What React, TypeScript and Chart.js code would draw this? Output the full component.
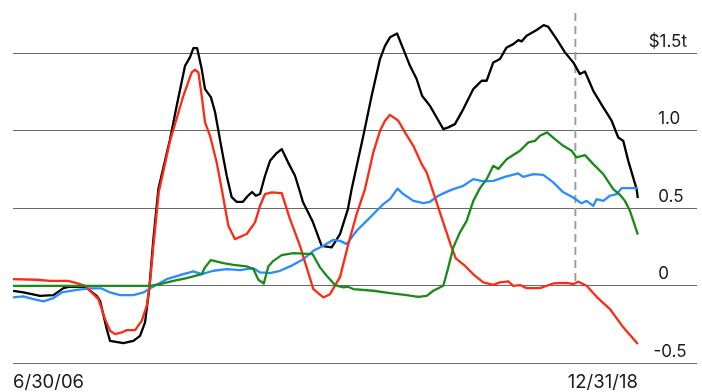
import { useEffect, useRef } from "react";
import { Chart, registerables } from "chart.js";

Chart.register(...registerables);

const FONT = "Inter, 'Helvetica Neue', 'Liberation Sans', Arial, sans-serif";

// x values: months after 6/30/06 ; y values: $ trillions
const xTickMonths = [0, 150];
const xTickLabels = ["6/30/06", "12/31/18"];
const yTickValues = [-0.5, 0, 0.5, 1, 1.5];
const yTickLabels = [" -0.5", "  0", "  0.5", "  1.0", "$1.5t"];
const markerMonth = 135;

const blackMonths = [0,2.5,6.5,9.7,12.1,13.7,17.3,20.1,20.9,22.5,23.3,26.5,28.9,30.5,31.7,32.7,33.7,34.9,37.7,39.3,41.3,42.5,43.3,44.2,45.3,46.1,47.5,48.5,50.1,51.3,52.5,53.7,55.2,56.4,57.4,58.3,59.3,60.5,61.7,63.3,64.5,66,67.7,68.9,69.6,72,74.1,76.5,78.5,80.4,81.3,84.1,86.1,88.1,89.3,90.5,92.2,93.7,95.3,96.9,98.2,100.1,101.7,103.3,104.5,106.1,108.1,110.5,112.5,113.7,115.3,116.9,118.5,120.1,121.3,122.1,123.3,125.7,127.4,128.5,130.5,132.5,134.5,136.1,137.3,139.3,141.7,143.7,145.3,146.5,147.7,149.7,150];
const blackValues = [-0.032,-0.043,-0.065,-0.06,-0.015,-0.006,-0.006,-0.065,-0.097,-0.279,-0.355,-0.37,-0.355,-0.323,-0.236,-0.021,0.301,0.624,0.946,1.161,1.419,1.475,1.534,1.534,1.398,1.269,1.217,1.121,0.882,0.71,0.572,0.542,0.542,0.581,0.605,0.581,0.592,0.71,0.806,0.856,0.882,0.798,0.71,0.605,0.54,0.411,0.258,0.248,0.334,0.495,0.624,0.968,1.226,1.463,1.548,1.603,1.628,1.527,1.419,1.334,1.226,1.161,1.086,1.011,1.022,1.043,1.14,1.269,1.323,1.323,1.441,1.463,1.538,1.559,1.585,1.577,1.613,1.65,1.682,1.671,1.592,1.506,1.441,1.366,1.383,1.258,1.151,1.065,0.957,0.935,0.806,0.624,0.566];

const redMonths = [0,5.7,8.9,13.2,15.3,17.3,19.3,20.5,22.1,23.3,24.5,26.1,27.3,29.3,30.9,32.1,32.9,33.7,35,37.7,40.9,42.9,43.7,44.5,45.3,46.1,47.3,48.9,50.1,51.7,53.3,56.1,58.1,59.3,60.5,62.1,64.5,66.5,68.9,72.1,74.5,76.1,78.5,80.5,82.5,84.5,86.5,88.1,89.3,90.5,92.5,94.1,96.1,98.1,99.3,100.9,102.7,105.1,106.3,108.3,110.7,112.9,115.3,116.9,118.9,120.1,121.7,123.3,126.5,129.7,132.9,134.5,135.7,137.7,140.1,143.3,146.5,150];
const redValues = [0.043,0.039,0.032,0.032,0.017,0,-0.054,-0.086,-0.215,-0.29,-0.312,-0.301,-0.286,-0.286,-0.226,-0.129,0.024,0.258,0.605,0.934,1.226,1.377,1.394,1.377,1.226,1.054,0.968,0.796,0.624,0.387,0.301,0.334,0.409,0.516,0.592,0.603,0.598,0.43,0.258,-0.021,-0.075,-0.054,0.056,0.269,0.463,0.624,0.861,1.0,1.065,1.103,1.065,0.99,0.903,0.785,0.732,0.603,0.456,0.263,0.177,0.134,0.069,0.022,0.006,0.022,0.028,0,0.005,-0.015,-0.015,0.015,0.019,0.011,0.026,0,-0.071,-0.15,-0.268,-0.376];

const blueMonths = [0,2.5,4.9,7.3,9.7,11.7,15.3,18.5,21.3,23.3,25.7,28.9,31.3,33.7,36.9,40.9,43.3,45.3,48.1,51.3,54.5,57.7,59.3,61.7,64.1,66.5,69.7,72.1,74.5,76.9,78.5,80.1,82.5,84.9,87.3,88.9,90.5,92.3,93.7,96.1,98.5,100.1,102.1,104.1,105.7,108.1,110.5,112.9,115.3,118.1,121.3,122.5,124.9,127.3,129.7,132.1,134.5,136.5,137.7,139.3,140.1,141.7,143.3,144.9,146.1,150];
const blueValues = [-0.075,-0.068,-0.086,-0.101,-0.079,-0.043,-0.026,-0.017,-0.017,-0.043,-0.06,-0.06,-0.043,-0.005,0.043,0.075,0.093,0.075,0.097,0.108,0.101,0.114,0.086,0.082,0.097,0.125,0.172,0.226,0.258,0.297,0.29,0.269,0.355,0.419,0.484,0.527,0.559,0.627,0.592,0.548,0.534,0.542,0.581,0.606,0.624,0.645,0.688,0.674,0.677,0.703,0.725,0.703,0.721,0.716,0.667,0.603,0.57,0.532,0.548,0.516,0.559,0.548,0.581,0.592,0.63,0.63];

const greenMonths = [0,32.9,35.3,38.5,41.7,45.3,46.1,47.5,50.5,52.9,56.1,57.7,58.9,60.2,61.3,62.5,64.5,67.3,71.9,73.7,75.3,77.3,79.3,80.4,81.7,86.5,90.5,94.5,97.3,99.3,100.9,103.3,104.5,105.7,107.3,108.9,110.5,112.1,113.7,115.3,116.5,118.5,121.7,123.7,125.3,126.5,128.2,130.1,132.1,134.1,135.3,137.3,139.3,141.7,144.1,145.7,146.9,148.1,150];
const greenValues = [0,0,0.011,0.032,0.05,0.075,0.119,0.166,0.146,0.135,0.125,0.108,0.039,0.015,0.125,0.161,0.198,0.211,0.205,0.119,0.065,0.005,-0.01,-0.006,-0.021,-0.032,-0.047,-0.06,-0.071,-0.065,-0.032,0,0.119,0.248,0.345,0.419,0.548,0.63,0.688,0.774,0.753,0.817,0.871,0.925,0.935,0.968,0.99,0.946,0.903,0.871,0.828,0.843,0.785,0.721,0.624,0.587,0.548,0.484,0.33];

const Y_MIN = -0.5;
const Y_MAX = 1.76;
const X_MAX = 164.2;

function pts(xs: number[], ys: number[]) {
  return xs.map((x, i) => ({ x, y: ys[i] }));
}

export default function App() {
  const ref = useRef<HTMLCanvasElement | null>(null);

  useEffect(() => {
    if (!ref.current) return;
    const chart = new Chart(ref.current, {
      type: "line",
      data: {
        datasets: [
          {
            label: "marker",
            data: [{ x: markerMonth, y: Y_MAX }, { x: markerMonth, y: 0 }],
            borderColor: "#9e9e9e",
            borderDash: [8, 5],
            borderWidth: 2,
            order: 5,
          },
          { label: "green", data: pts(greenMonths, greenValues), borderColor: "#1a8a1a", order: 1 },
          { label: "red", data: pts(redMonths, redValues), borderColor: "#ff2a14", order: 2 },
          { label: "blue", data: pts(blueMonths, blueValues), borderColor: "#2b8cff", order: 3 },
          { label: "black", data: pts(blackMonths, blackValues), borderColor: "#000000", order: 4 },
        ],
      },
      options: {
        animation: false,
        responsive: false,
        devicePixelRatio: 1,
        layout: { padding: { left: 13, right: 5, top: 13, bottom: 0 } },
        elements: {
          point: { radius: 0 },
          line: { tension: 0, borderWidth: 2.3, borderJoinStyle: "round", borderCapStyle: "butt" },
        },
        plugins: { legend: { display: false }, tooltip: { enabled: false } },
        scales: {
          x: {
            type: "linear",
            min: 0,
            max: X_MAX,
            grid: { display: false },
            border: { display: false },
            afterBuildTicks: (s: any) => {
              s.ticks = xTickMonths.map((v) => ({ value: v }));
            },
            afterFit: (s: any) => {
              s.height = 28.7;
              s.paddingLeft = 0;
              s.paddingRight = 0;
            },
            ticks: {
              align: "inner",
              maxRotation: 0,
              autoSkip: false,
              padding: 0,
              color: "#1a1a1a",
              font: { family: FONT, size: 18.5 },
              callback: (_v: any, i: number) => xTickLabels[i],
            },
          },
          y: {
            type: "linear",
            position: "right",
            min: Y_MIN,
            max: Y_MAX,
            afterBuildTicks: (s: any) => {
              s.ticks = yTickValues.map((v) => ({ value: v }));
            },
            afterFit: (s: any) => {
              s.width = 0;
              s.paddingTop = 0;
              s.paddingBottom = 0;
            },
            grid: { color: "#6a6a6a", lineWidth: 1, drawTicks: false },
            border: { display: false },
            ticks: {
              mirror: true,
              crossAlign: "far",
              padding: -10,
              labelOffset: -11.5,
              color: "#1a1a1a",
              font: { family: FONT, size: 17 },
              callback: (_v: any, i: number) => yTickLabels[i],
            },
          },
        },
      },
    } as any);
    return () => chart.destroy();
  }, []);

  return (
    <div style={{ position: "fixed", left: 0, top: 0, width: 702, height: 392, background: "#fff" }}>
      <canvas ref={ref} width={702} height={392} style={{ display: "block" }} />
    </div>
  );
}
